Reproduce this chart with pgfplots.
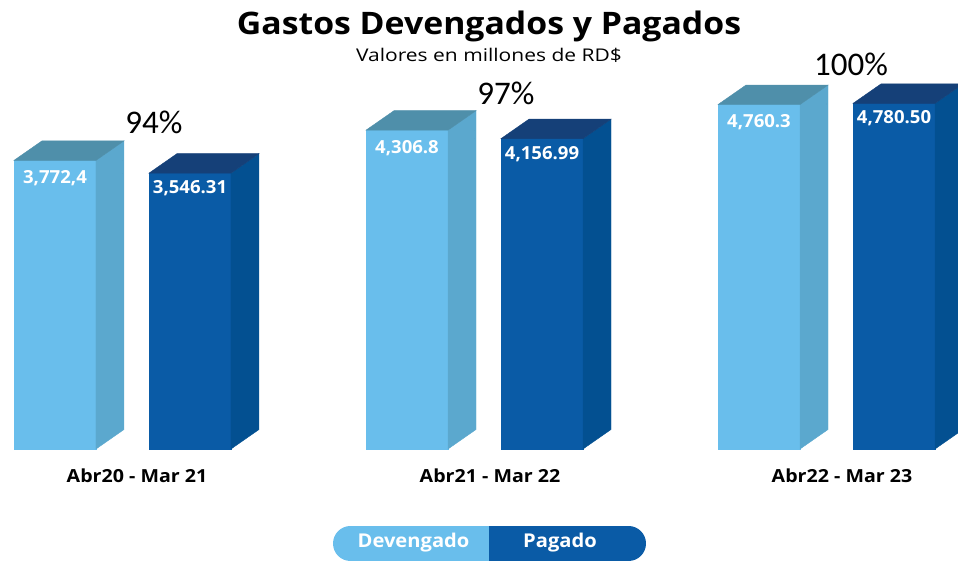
\documentclass[border=0pt]{standalone}
\usepackage{fontspec}
\setmainfont{Open Sans}
\newfontfamily\pctfont{Carlito}
\usepackage{pgfplots}
\usepackage{pgfplotstable}
\pgfplotsset{compat=1.18}

\definecolor{lightF}{RGB}{105,190,236}
\definecolor{lightS}{RGB}{91,168,206}
\definecolor{lightT}{RGB}{79,143,170}
\definecolor{darkF}{RGB}{10,91,166}
\definecolor{darkS}{RGB}{3,80,145}
\definecolor{darkT}{RGB}{21,64,120}

\pgfplotstableread{
x y label
0 3772.4 3,772,4
1 4306.8 4,306.8
2 4760.3 4,760.3
}\devengado
\pgfplotstableread{
x y label
0 3546.31 3,546.31
1 4156.99 4,156.99
2 4780.50 4,780.50
}\pagado

% #1 front, #2 side, #3 top, #4 x shift (number, pt), #5 label baseline offset
\newcommand\drawbar[5]{%
  \pgfmathsetmacro\h{(\rawy+1336)*0.0565}%
  \pgfmathsetmacro\hb{-\h+19.5}%
  \pgfmathsetmacro\xl{#4-41}%
  \pgfmathsetmacro\xr{#4+41}%
  \pgfmathsetmacro\xs{#4+69}%
  \pgfmathsetmacro\xb{#4-13}%
  \fill[#1] (\xl pt,-\h pt) rectangle (\xr pt,0pt);
  \fill[#2] (\xr pt,-\h pt) -- (\xs pt,\hb pt) -- (\xs pt,19.5pt) -- (\xr pt,0pt) -- cycle;
  \fill[#3] (\xl pt,0pt) -- (\xr pt,0pt) -- (\xs pt,19.5pt) -- (\xb pt,19.5pt) -- cycle;
  \node[anchor=base,text=white,inner sep=0pt,font=\bfseries\fontsize{18}{22}\selectfont\addfontfeature{FakeStretch=1.03}] at (#4pt,-#5pt) {\pgfplotspointmeta};}

\begin{document}
\begin{tikzpicture}
\useasboundingbox (0,0) rectangle (958pt,561pt);
\begin{axis}[
  at={(0pt,112pt)}, anchor=south west,
  x=352pt, y=0.0565pt,
  xmin=-0.348, xmax=2.3736,
  ymin=-1336, ymax=6611,
  scale only axis, hide axis, clip=false,
]
\addplot[scatter, only marks, mark=*, mark size=0pt,
  point meta=explicit symbolic,
  visualization depends on={rawy \as \rawy},
  scatter/@pre marker code/.code={\drawbar{lightF}{lightS}{lightT}{-67.5}{23}},
  scatter/@post marker code/.code={}]
  table[x=x,y=y,meta=label] {\devengado};
\addplot[scatter, only marks, mark=*, mark size=0pt,
  point meta=explicit symbolic,
  visualization depends on={rawy \as \rawy},
  scatter/@pre marker code/.code={\drawbar{darkF}{darkS}{darkT}{67.5}{20.5}},
  scatter/@post marker code/.code={}]
  table[x=x,y=y,meta=label] {\pagado};
\end{axis}

% category labels
\foreach \cx/\t in {137/{Abr20 - Mar 21}, 490/{Abr21 - Mar 22}, 842/{Abr22 - Mar 23}}
  \node[anchor=base,inner sep=0pt,font=\bfseries\fontsize{18}{21}\selectfont\addfontfeature{FakeStretch=1.09}] at (\cx pt,78pt) {\t};

% percentages
\node[anchor=base,inner sep=0pt,font=\pctfont\fontsize{33}{38}\selectfont] at (154pt,427pt) {94\%};
\node[anchor=base,inner sep=0pt,font=\pctfont\fontsize{33}{38}\selectfont] at (506pt,456pt) {97\%};
\node[anchor=base,inner sep=0pt,font=\pctfont\fontsize{33}{38}\selectfont] at (851pt,485pt) {100\%};

% title
\node[anchor=base,inner sep=0pt,font=\bfseries\fontsize{31}{36}\selectfont\addfontfeature{FakeStretch=1.09}] at (489pt,526pt) {Gastos Devengados y Pagados};
\node[anchor=base,inner sep=0pt,font=\fontsize{17.5}{20}\selectfont\addfontfeature{FakeStretch=1.2}] at (489pt,499pt) {Valores en millones de RD\$};

% legend pill
\begin{scope}
  \clip[rounded corners=17.5pt] (333pt,0pt) rectangle (646pt,35pt);
  \fill[lightF] (333pt,0pt) rectangle (489pt,35pt);
  \fill[darkF] (489pt,0pt) rectangle (646pt,35pt);
\end{scope}
\node[text=white,inner sep=0pt,font=\bfseries\fontsize{19}{22}\selectfont\addfontfeature{FakeStretch=1.06}] at (413.5pt,18pt) {Devengado};
\node[text=white,inner sep=0pt,font=\bfseries\fontsize{19}{22}\selectfont\addfontfeature{FakeStretch=1.06}] at (560pt,18pt) {Pagado};
\end{tikzpicture}
\end{document}
